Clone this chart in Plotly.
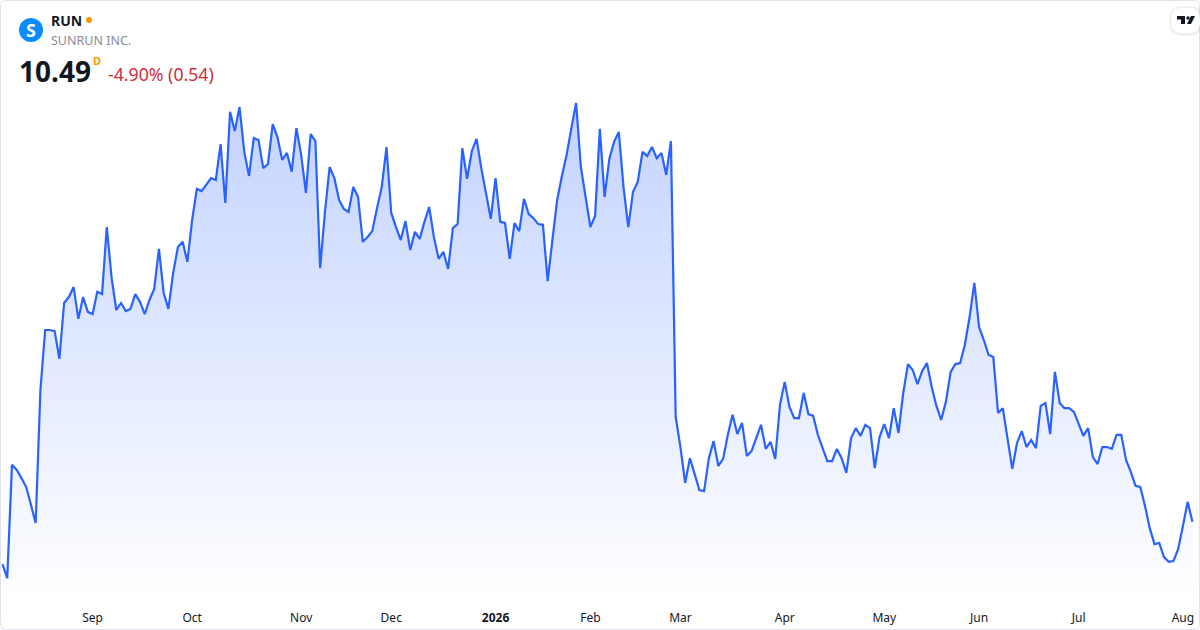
"""
RUN (Sunrun Inc.) daily close, one year area chart.
"""

import plotly.graph_objects as go

WIDTH = 1200
HEIGHT = 630

TICKER = "RUN"
COMPANY = "SUNRUN INC."
LAST_PRICE = "10.49"
INTERVAL = "D"
CHANGE = "-4.90% (0.54)"

# Daily closes
close_aug_oct = [
    9.35, 8.97, 12.03, 11.89, 11.67, 11.43, 10.95, 10.46, 14.05, 15.67,
    15.67, 15.64, 14.89, 16.40, 16.56, 16.83, 15.97, 16.56, 16.16, 16.10,
    16.70, 16.64, 18.45, 17.10, 16.21, 16.40, 16.18, 16.24, 16.64, 16.43,
    16.10, 16.48, 16.78, 17.86, 16.67, 16.24, 17.21, 17.91, 18.05, 17.51,
    18.64, 19.48, 19.42, 19.59, 19.77, 19.72, 20.69, 19.10, 21.56, 21.04,
    21.69, 20.48, 19.83, 20.85, 20.80, 20.04, 20.15, 21.23, 20.88, 20.26,
    20.45, 19.94, 21.12,
]
close_nov_dec = [
    20.40, 19.37, 20.96, 20.77, 17.34, 18.83, 20.07, 19.77, 19.18, 18.94,
    18.86, 19.53, 19.26, 18.05, 18.18, 18.34, 18.96, 19.53, 20.61, 18.83,
    18.45, 18.10, 18.61, 17.83, 18.32, 18.13, 18.59, 18.99, 18.18, 17.59,
    17.78, 17.32, 18.42, 18.53, 20.58, 19.75, 20.50, 20.83, 20.04, 19.37,
    18.67, 19.77,
]
close_jan_feb = [
    18.59, 18.56, 17.59, 18.56, 18.34, 19.21, 18.80, 18.69, 18.53, 18.51,
    16.99, 18.10, 19.18, 19.83, 20.40, 21.12, 21.80, 20.07, 19.26, 18.45,
    18.75, 21.10, 19.26, 20.29, 20.75, 21.02, 19.53, 18.45, 19.40, 19.67,
    20.48, 20.37, 20.61, 20.31, 20.45, 19.86, 20.77,
]
close_mar_may = [
    13.32, 12.51, 11.54, 12.21, 11.81, 11.35, 11.32, 12.21, 12.67, 12.00,
    12.19, 12.84, 13.38, 12.86, 13.16, 12.27, 12.40, 12.78, 13.11, 12.46,
    12.65, 12.19, 13.65, 14.27, 13.59, 13.29, 13.29, 13.97, 13.40, 13.35,
    12.84, 12.48, 12.13, 12.13, 12.46, 12.21, 11.81, 12.75, 13.02, 12.81,
    13.11, 13.02, 11.94, 12.78, 13.13, 12.75, 13.56, 12.89, 13.97, 14.75,
    14.59, 14.21, 14.56, 14.78, 14.13, 13.62, 13.24, 13.73, 14.54, 14.75,
    14.78, 15.27, 16.02, 16.94,
]
close_jun_aug = [
    15.75, 15.40, 15.00, 14.94, 13.43, 13.56, 12.70, 11.92, 12.62, 12.94,
    12.51, 12.70, 12.48, 13.62, 13.70, 12.86, 14.54, 13.70, 13.56, 13.56,
    13.46, 13.16, 12.81, 13.02, 12.24, 12.05, 12.51, 12.51, 12.46, 12.84,
    12.84, 12.16, 11.84, 11.46, 11.43, 10.92, 10.32, 9.89, 9.92, 9.54,
    9.41, 9.43, 9.76, 10.38, 11.03, 10.49,
]
closes = close_aug_oct + close_nov_dec + close_jan_feb + close_mar_may + close_jun_aug

tick_labels = ["Sep", "Oct", "Nov", "Dec", "<b>2026</b>", "Feb", "Mar", "Apr", "May", "Jun", "Jul", "Aug"]
tick_sessions = [19, 40, 63, 82, 104, 124, 143, 165, 186, 206, 227, 249]


def px(x):
    return x / WIDTH


def py(y):
    return 1 - y / HEIGHT


def label(x, y, text, size, color, bold=False):
    return dict(
        x=px(x), y=py(y), xref="paper", yref="paper", text=text, showarrow=False,
        xanchor="left", yanchor="middle", borderpad=0, borderwidth=0,
        font=dict(family="Noto Sans", size=size, color=color, weight=700 if bold else 400),
    )


def poly(points, **kwargs):
    path = "M " + " L ".join(f"{px(x):.5f},{py(y):.5f}" for x, y in points) + " Z"
    return dict(type="path", xref="paper", yref="paper", path=path, **kwargs)


def circle(cx, cy, r, color):
    return dict(
        type="circle", xref="paper", yref="paper",
        x0=px(cx - r), x1=px(cx + r), y0=py(cy + r), y1=py(cy - r),
        fillcolor=color, line_width=0,
    )


def rounded(x0, y0, x1, y1, r, **kwargs):
    p = (
        f"M {px(x0 + r):.5f},{py(y0):.5f} L {px(x1 - r):.5f},{py(y0):.5f} "
        f"Q {px(x1):.5f},{py(y0):.5f} {px(x1):.5f},{py(y0 + r):.5f} "
        f"L {px(x1):.5f},{py(y1 - r):.5f} Q {px(x1):.5f},{py(y1):.5f} {px(x1 - r):.5f},{py(y1):.5f} "
        f"L {px(x0 + r):.5f},{py(y1):.5f} Q {px(x0):.5f},{py(y1):.5f} {px(x0):.5f},{py(y1 - r):.5f} "
        f"L {px(x0):.5f},{py(y0 + r):.5f} Q {px(x0):.5f},{py(y0):.5f} {px(x0 + r):.5f},{py(y0):.5f} Z"
    )
    return dict(type="path", xref="paper", yref="paper", path=p, **kwargs)


fig = go.Figure()

fig.add_trace(
    go.Scatter(
        x=list(range(len(closes))),
        y=closes,
        mode="lines",
        line=dict(color="#2962ff", width=2.2),
        fill="tozeroy",
        fillgradient=dict(
            type="vertical",
            start=21.8,
            stop=8.38,
            colorscale=[[0, "rgba(41,98,255,0.28)"], [1, "rgba(41,98,255,0.0)"]],
        ),
        hoverinfo="skip",
    )
)

shapes = [
    rounded(0.5, 0.5, 1199.5, 629.5, 6, line=dict(color="#e0e3eb", width=1), fillcolor="rgba(0,0,0,0)"),
    circle(31, 30, 12, "#0a8cff"),
    circle(89, 20, 3, "#ff9800"),
    rounded(1169, 6, 1203, 36, 12, line_width=0, fillcolor="rgba(0,0,0,0.03)"),
    rounded(1170, 7, 1202, 35, 12, line_width=0, fillcolor="rgba(0,0,0,0.04)"),
    rounded(1171, 8, 1200, 33, 11, line_width=0, fillcolor="#ffffff"),
    poly([(1177, 16), (1185, 16), (1185, 24), (1181, 24), (1181, 19.5), (1177, 19.5)], fillcolor="#131722", line_width=0),
    circle(1188, 18, 1.7, "#131722"),
    poly([(1191, 16), (1195, 16), (1191, 24), (1187, 24)], fillcolor="#131722", line_width=0),
]

annotations = [
    label(51, 21, TICKER, 14, "#131722", bold=True),
    label(51, 41, COMPANY, 12.5, "#8a8d97"),
    label(19, 71, LAST_PRICE, 28, "#131722", bold=True),
    label(93, 61, INTERVAL, 11, "#ff9800", bold=True),
    label(108, 74, CHANGE, 17.7, "#cc2f3c"),
    dict(
        x=px(31), y=py(30), xref="paper", yref="paper", text="S", showarrow=False,
        xanchor="center", yanchor="middle",
        font=dict(family="Noto Sans", size=18, color="#ffffff", weight=700),
    ),
]

fig.update_layout(
    width=WIDTH,
    height=HEIGHT,
    margin=dict(l=0, r=0, t=0, b=0),
    paper_bgcolor="#ffffff",
    plot_bgcolor="#ffffff",
    showlegend=False,
    shapes=shapes,
    annotations=annotations,
    xaxis=dict(
        range=[-0.527, 252.6],
        tickmode="array",
        tickvals=tick_sessions,
        ticktext=tick_labels,
        showgrid=False,
        zeroline=False,
        showline=False,
        ticks="",
        ticklabelstandoff=9,
        tickfont=dict(family="Noto Sans", size=12, color="#131722"),
        automargin=False,
    ),
    yaxis=dict(
        domain=[30 / HEIGHT, 1],
        range=[8.38, 24.58],
        visible=False,
    ),
)

# The default page margin would push the fixed-size figure off the window
fig.write_html(
    "out.html",
    config={"displayModeBar": False},
    post_script="document.body.style.margin = '0';",
)
